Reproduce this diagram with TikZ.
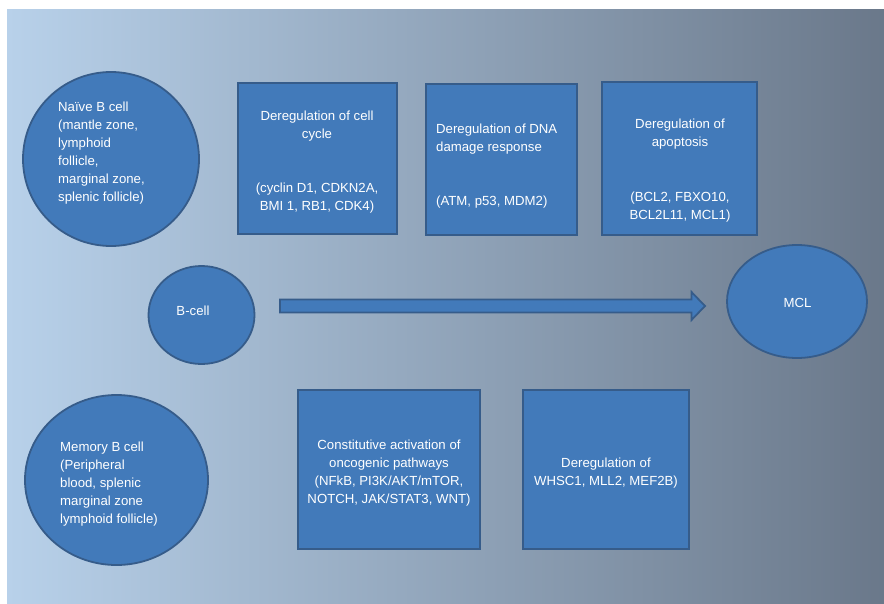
\documentclass[tikz,border=0pt]{standalone}
\usepackage{fontspec}
\setmainfont{Liberation Sans}
\usetikzlibrary{shapes.geometric}
\definecolor{cellblue}{RGB}{66,122,186}
\definecolor{celledge}{RGB}{54,92,138}
\definecolor{bgleft}{RGB}{184,209,234}
\definecolor{bgmid}{RGB}{152,174,200}
\definecolor{bgright}{RGB}{106,120,138}
\tikzset{
    cell/.style={ellipse, draw=celledge, fill=cellblue, line width=1.8pt, inner sep=0pt},
    stepbox/.style={rectangle, draw=celledge, fill=cellblue, line width=1.8pt, inner sep=0pt},
    celltext/.style={text=white, inner sep=0pt, font=\fontsize{13.2}{18}\selectfont},
    arrowbody/.style={draw=celledge, fill=cellblue, line width=1.8pt},
}
\begin{document}
\begin{tikzpicture}[x=1pt, y=-1pt]
    % 背景
    \useasboundingbox (0,0) rectangle (884,603);
    \shade[left color=bgleft, middle color=bgmid, right color=bgright] (7,9) rectangle (884,603);
    
    % 细胞
    \node[cell, minimum width=176, minimum height=174] (naive) at (111,159) {};
    \node[celltext, align=left, anchor=west] (naivetxt) at (58,153) {Naïve B cell\\(mantle zone,\\lymphoid\\follicle,\\marginal zone,\\splenic follicle)};
    \node[cell, minimum width=106, minimum height=98] (bcell) at (201.5,315) {};
    \node[celltext] (bcelltxt) at (193,311) {B-cell};
    \node[cell, minimum width=140, minimum height=113] (mcl) at (797,301.5) {};
    \node[celltext] (mcltxt) at (797.5,303) {MCL};
    \node[cell, minimum width=183, minimum height=170] (memory) at (116.5,480) {};
    \node[celltext, align=left, anchor=west] (memorytxt) at (60,484) {Memory B cell\\(Peripheral\\blood, splenic\\marginal zone\\lymphoid follicle)};
    
    % 上排方框
    \node[stepbox, minimum width=159, minimum height=151] (cycle) at (317.5,158.5) {};
    \node[celltext, align=center] (cycletxt) at (317,162) {Deregulation of cell\\cycle\\[36pt](cyclin D1, CDKN2A,\\BMI 1, RB1, CDK4)};
    \node[stepbox, minimum width=151, minimum height=151] (dna) at (501.5,159.5) {};
    \node[celltext, align=left, anchor=west] (dnatxt) at (436,166) {Deregulation of DNA\\damage response\\[36pt](ATM, p53, MDM2)};
    \node[stepbox, minimum width=155, minimum height=153] (apop) at (679.5,158.5) {};
    \node[celltext, align=center] (apoptxt) at (680,171) {Deregulation of\\apoptosis\\[37pt](BCL2, FBXO10,\\BCL2L11, MCL1)};
    
    % 下排方框
    \node[stepbox, minimum width=182, minimum height=159] (path) at (389,469.5) {};
    \node[celltext, align=center] (pathtxt) at (389,473) {Constitutive activation of\\oncogenic pathways\\(NFkB, PI3K/AKT/mTOR,\\NOTCH, JAK/STAT3, WNT)};
    \node[stepbox, minimum width=166, minimum height=159] (whsc) at (606,469.5) {};
    \node[celltext, align=center] (whsctxt) at (606,473) {Deregulation of\\WHSC1, MLL2, MEF2B)};
    
    % 箭头
    \coordinate (tail) at (280,306);
    \coordinate (tip) at (705,306);
    \draw[arrowbody] ([yshift=6.5pt]tail) -- ([xshift=-13.5pt,yshift=6.5pt]tip) -- ([xshift=-13.5pt,yshift=14pt]tip) -- (tip)
        -- ([xshift=-13.5pt,yshift=-14pt]tip) -- ([xshift=-13.5pt,yshift=-6.5pt]tip) -- ([yshift=-6.5pt]tail) -- cycle;
\end{tikzpicture}
\end{document}
